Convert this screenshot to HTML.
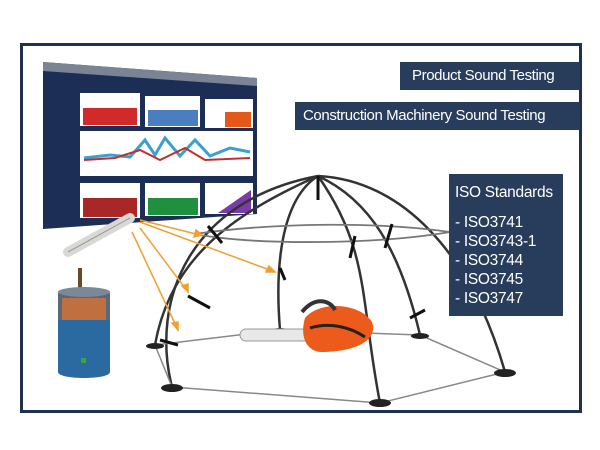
<!DOCTYPE html>
<html><head><meta charset="utf-8"><style>
html,body{margin:0;padding:0;background:#fff;}
body{width:600px;height:450px;position:relative;overflow:hidden;font-family:"Liberation Sans",sans-serif;}
.frame{position:absolute;left:20px;top:43px;width:556px;height:364px;border:3px solid #1f3050;}
.box{position:absolute;background:#283c5c;color:#fff;font-size:15px;letter-spacing:-0.4px;}
.iso{position:absolute;left:6px;color:#fff;font-size:15.5px;letter-spacing:-0.3px;white-space:nowrap}
</style></head><body>
<div class="frame"></div>
<svg width="600" height="450" style="position:absolute;left:0;top:0">
<!-- screen -->
<polygon points="43,62 257,78 257,214 43,229" fill="#1c2e55"/>
<polygon points="43,62 257,78 257,86 43,71" fill="#7a8494"/>
<rect x="80" y="93" width="60" height="33" fill="#fff"/><rect x="83" y="108" width="54" height="17" fill="#d02a2a"/>
<rect x="145" y="96" width="55" height="31" fill="#fff"/><rect x="148" y="110" width="50" height="16" fill="#4a7ec0"/>
<rect x="205" y="99" width="48" height="29" fill="#fff"/><rect x="225" y="112" width="26" height="15" fill="#e35a18"/>
<rect x="80" y="131" width="173" height="45" fill="#fff"/>
<polyline points="84,158 110,155 130,157 145,140 155,155 165,138 180,156 195,140 210,156 230,148 250,152" fill="none" stroke="#3aa0d0" stroke-width="3"/>
<polyline points="84,160 115,158 140,150 160,160 185,148 205,160 250,158" fill="none" stroke="#c03030" stroke-width="2"/>
<rect x="80" y="183" width="60" height="35" fill="#fff"/><rect x="83" y="198" width="54" height="19" fill="#a82828"/>
<rect x="145" y="183" width="55" height="33" fill="#fff"/><rect x="148" y="198" width="50" height="17" fill="#1e9040"/>
<rect x="205" y="183" width="48" height="31" fill="#fff"/><polygon points="218,213 251,190 251,213" fill="#7a3aa8"/>
<!-- mic -->
<line x1="68" y1="252" x2="130" y2="218" stroke="#d8d8d4" stroke-width="10" stroke-linecap="round"/>
<line x1="68" y1="252" x2="130" y2="218" stroke="#999" stroke-width="1"/>
<!-- dome -->
<g fill="none" stroke="#333" stroke-width="2.5">
 <path d="M172,387 C150,300 190,200 318,176"/>
 <path d="M318,176 C400,180 470,250 505,372"/>
 <path d="M318,176 C280,200 275,270 280,330"/>
 <path d="M318,176 C370,200 400,250 420,335"/>
 <path d="M155,345 C170,260 230,215 318,176"/>
 <path d="M380,403 C360,300 370,250 318,176"/>
</g>
<path d="M194,234 C280,222 380,222 450,232 C380,244 260,246 194,234" fill="none" stroke="#777" stroke-width="1.8"/>
<g fill="none" stroke="#888" stroke-width="1.5">
 <polyline points="172,387 380,403 505,372 420,335 280,330 155,345 172,387"/>
</g>
<g fill="#222">
 <ellipse cx="172" cy="388" rx="11" ry="4"/><ellipse cx="380" cy="403" rx="11" ry="4"/>
 <ellipse cx="505" cy="373" rx="11" ry="4"/><ellipse cx="155" cy="346" rx="9" ry="3"/>
 <ellipse cx="280" cy="331" rx="9" ry="3"/><ellipse cx="420" cy="336" rx="9" ry="3"/>
</g>
<g stroke="#111" stroke-width="3">
 <line x1="318" y1="176" x2="318" y2="200"/><line x1="208" y1="226" x2="222" y2="243"/>
 <line x1="188" y1="296" x2="210" y2="308"/><line x1="160" y1="340" x2="178" y2="345"/>
 <line x1="392" y1="224" x2="385" y2="248"/><line x1="355" y1="236" x2="350" y2="258"/>
 <line x1="280" y1="268" x2="285" y2="280"/><line x1="410" y1="318" x2="425" y2="310"/>
</g>
<!-- arrows -->
<g stroke="#f0a030" stroke-width="1.5" fill="#f0a030">
 <line x1="140" y1="220" x2="200" y2="235"/><line x1="140" y1="222" x2="275" y2="272"/>
 <line x1="140" y1="228" x2="188" y2="292"/><line x1="132" y1="232" x2="178" y2="330"/>
 <polygon points="275,272 266,272 269,266"/><polygon points="188,292 182,286 188,284"/>
 <polygon points="178,330 172,323 178,322"/><polygon points="202,235 194,237 196,230"/>
</g>
<!-- chainsaw -->
<rect x="240" y="329" width="70" height="12" rx="6" fill="#e8e8e8" stroke="#999"/>
<path d="M305,318 C320,300 360,303 372,322 C378,338 360,352 320,352 C305,350 300,335 305,318Z" fill="#ec5a1c"/>
<path d="M310,328 C330,322 350,327 365,337" stroke="#222" stroke-width="3" fill="none"/>
<path d="M302,312 C315,296 330,300 335,310" stroke="#333" stroke-width="4" fill="none"/>
<!-- cylinder -->
<rect x="78" y="268" width="4" height="25" fill="#6a4a2a"/>
<rect x="58" y="292" width="52" height="30" fill="#5a6878"/>
<rect x="62" y="298" width="44" height="24" fill="#c07040"/>
<path d="M58,320 L110,320 L110,372 C110,380 58,380 58,372Z" fill="#2a6aa0"/>
<ellipse cx="84" cy="292" rx="26" ry="5" fill="#7a8898"/>
<rect x="81" y="358" width="5" height="5" fill="#3a3"/>
</svg>
<div class="box" style="left:400px;top:62px;width:180px;height:28px;line-height:28px;text-indent:12px">Product Sound Testing</div>
<div class="box" style="left:295px;top:102px;width:285px;height:28px;line-height:28px;text-indent:8px">Construction Machinery Sound Testing</div>
<div class="box" style="left:449px;top:174px;width:114px;height:142px">
<div class="iso" style="top:10px">ISO Standards</div>
<div class="iso" style="top:40px">- ISO3741</div>
<div class="iso" style="top:59px">- ISO3743-1</div>
<div class="iso" style="top:78px">- ISO3744</div>
<div class="iso" style="top:97px">- ISO3745</div>
<div class="iso" style="top:116px">- ISO3747</div>
</div>
</body></html>
